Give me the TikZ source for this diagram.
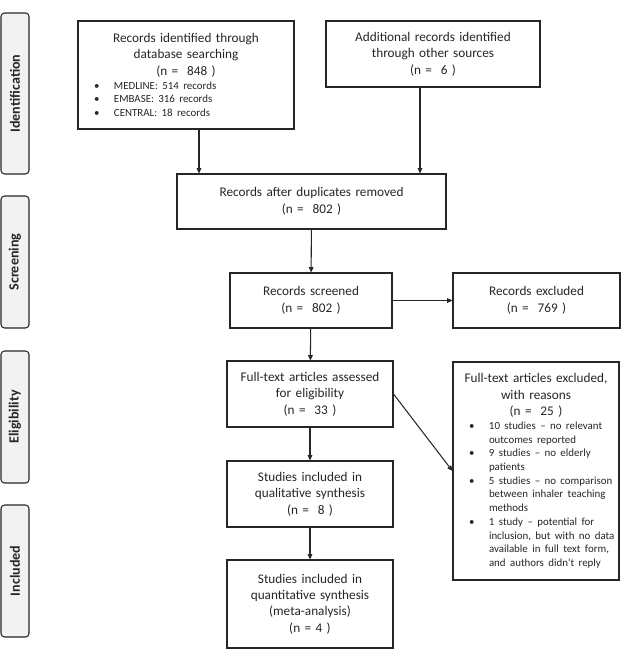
\documentclass[tikz,border=0pt]{standalone}
\usepackage{fontspec}
\setmainfont{Carlito}
\usetikzlibrary{arrows.meta, positioning, calc}
\definecolor{cdark}{HTML}{262626}
\definecolor{cpanel}{HTML}{F2F2F2}
\newcommand{\bigtxt}{\fontsize{11.3}{14}\selectfont}
\newcommand{\smalltxt}{\fontsize{9.3}{11.7}\selectfont}
\newcommand{\bitem}[1]{\par\hangindent=0.96cm\hangafter=1\noindent\hspace*{0.36cm}\makebox[0.6cm][l]{\textbullet}#1\par}
\tikzset{
  every picture/.style={line width=0.9pt},
  box/.style={draw=cdark, fill=white, text=cdark, align=center, inner sep=0.12cm, font=\bigtxt},
  arrow/.style={-{Triangle[length=1.6mm, width=1.4mm]}, draw=cdark},
}

\begin{document}
\begin{tikzpicture}[stage/.style={draw=cdark, fill=cpanel, rounded corners=3pt, rotate=90, minimum width=#1, minimum height=0.84cm, text=cdark, font=\bfseries\fontsize{12}{14}\selectfont},
  stage/.default=3.96cm]
  \useasboundingbox (0,0) rectangle (18.72,-19.74);
  \node[stage=4.83cm] (idl) at (0.45,-2.805) {Identification};
  \node[stage] (scl) at (0.45,-7.86) {Screening};
  \node[stage] (ell) at (0.45,-12.51) {Eligibility};
  \node[stage] (inl) at (0.45,-17.13) {Included};
  \node[box, text width=6.24cm, minimum height=3.24cm] (db) at (5.58,-2.25) {Records identified through\\database searching\\(n =~ 848 )\par
    \raggedright\smalltxt
    \bitem{MEDLINE: 514 records}
    \bitem{EMBASE: 316 records}
    \bitem{CENTRAL: 18 records}};
  \node[box, text width=6.18cm, minimum height=1.98cm] (oth) at (12.99,-1.62) {Additional records identified\\through other sources\\(n =~ 6 )};
  \node[box, text width=7.83cm, minimum height=1.65cm] (dup) at (9.345,-6.045) {Records after duplicates removed\\(n =~ 802 )};
  \node[box, text width=4.62cm, minimum height=1.65cm] (scr) at (9.33,-9.015) {Records screened\\(n =~ 802 )};
  \node[box, text width=4.77cm, minimum height=1.65cm] (exc) at (16.095,-9.015) {Records excluded\\(n =~ 769 )};
  \node[box, text width=4.74cm, minimum height=1.98cm] (ft) at (9.3,-11.82) {Full-text articles assessed\\for eligibility\\(n =~ 33 )};
  \node[box, text width=4.74cm, minimum height=1.98cm] (qual) at (9.3,-14.82) {Studies included in\\qualitative synthesis\\(n =~ 8 )};
  \node[box, text width=4.74cm, minimum height=2.64cm] (quant) at (9.3,-18.12) {Studies included in\\quantitative synthesis\\(meta-analysis)\\(n = 4 )};
  \node[box, text width=4.74cm, minimum height=6.54cm] (ftx) at (16.08,-14.13) {Full-text articles excluded,\\with reasons\\(n =~ 25 )\par
    \raggedright\smalltxt
    \bitem{10 studies -- no relevant\newline outcomes reported}
    \bitem{9 studies -- no elderly\newline patients}
    \bitem{5 studies -- no comparison\newline between inhaler teaching\newline methods}
    \bitem{1 study -- potential for\newline inclusion, but with no data\newline available in full text form,\newline and authors didn`t reply}};
  \draw[arrow] ([xshift=0.39cm]db.south) -- ([xshift=0.39cm]db.south |- dup.north);
  \draw[arrow] ([xshift=-0.39cm]oth.south) -- ([xshift=-0.39cm]oth.south |- dup.north);
  \foreach \a/\b in {dup/scr, scr/exc, scr/ft, ft/qual, qual/quant} \draw[arrow] (\a) -- (\b);
  \draw[arrow] (ft.east) -- (ftx.west);
\end{tikzpicture}
\end{document}
